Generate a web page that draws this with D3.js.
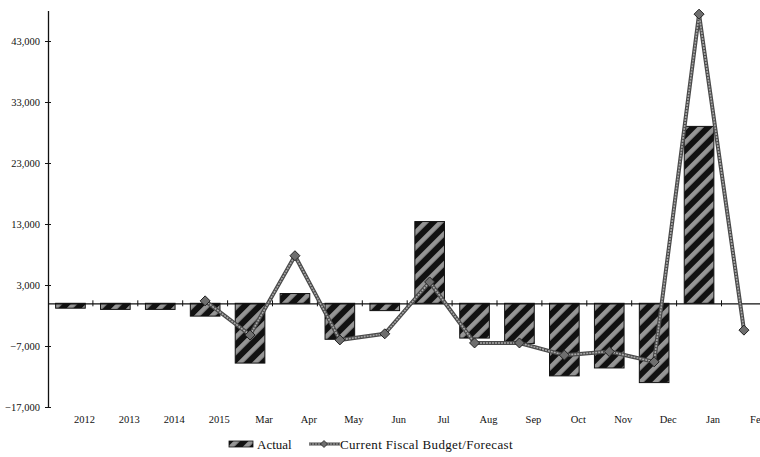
<!DOCTYPE html>
<html>
<head>
<meta charset="utf-8">
<script src="https://cdn.jsdelivr.net/npm/d3@7"></script>
<style>
  html, body { margin: 0; padding: 0; background: #fff; }
  svg { display: block; }
  text { font-family: "Liberation Serif", "Times New Roman", serif; fill: #111; }
</style>
</head>
<body>
<div id="chart"></div>
<script>
// Monthly variance: actual vs. current fiscal budget / forecast
const categories = ["2012", "2013", "2014", "2015", "Mar", "Apr", "May", "Jun",
                    "Jul", "Aug", "Sep", "Oct", "Nov", "Dec", "Jan", "Feb"];
const actual   = [-800, -1000, -1000, -2100, -9800, 1600, -5900, -1200,
                  13400, -5700, -6600, -11900, -10600, -13000, 29000, null];
const forecast = [null, null, null, 400, -5200, 7800, -6000, -5000,
                  3500, -6500, -6500, -8500, -7900, -9600, 47400, -4400];
const yTicks = [-17000, -7000, 3000, 13000, 23000, 33000, 43000];
const seriesNames = ["Actual", "Current Fiscal Budget/Forecast"];

const W = 760, H = 457;
const plotLeft = 48, band = 44.9;

const svg = d3.select("#chart").append("svg")
  .attr("width", W).attr("height", H);

const defs = svg.append("defs");
const pat = defs.append("pattern")
  .attr("id", "hatch")
  .attr("patternUnits", "userSpaceOnUse")
  .attr("width", 10.6).attr("height", 10.6)
  .attr("patternTransform", "rotate(45)");
pat.append("rect").attr("width", 10.6).attr("height", 10.6).attr("fill", "#111");
pat.append("rect").attr("x", 0).attr("width", 4.6).attr("height", 10.6).attr("fill", "#959595");

const x = d3.scaleBand()
  .domain(categories)
  .range([plotLeft, plotLeft + band * categories.length]);

const y = d3.scaleLinear()
  .domain([-17000, 48000])
  .range([407, 10.5]);

const barW = x.bandwidth() * 0.66;
const cx = c => x(c) + x.bandwidth() / 2;

// Bars
svg.append("g").selectAll("rect")
  .data(categories.map((c, i) => ({ c, v: actual[i] })).filter(d => d.v != null))
  .join("rect")
  .attr("x", d => cx(d.c) - barW / 2)
  .attr("width", barW)
  .attr("y", d => y(Math.max(0, d.v)))
  .attr("height", d => Math.abs(y(d.v) - y(0)))
  .attr("fill", "url(#hatch)")
  .attr("stroke", "#111")
  .attr("stroke-width", 1);

// Y axis
const yAxis = svg.append("g")
  .attr("transform", `translate(${plotLeft},0)`)
  .call(d3.axisLeft(y).tickValues(yTicks).tickSizeOuter(0).tickSizeInner(3)
    .tickFormat(d3.format(",")));
yAxis.select(".domain").attr("stroke", "#111").attr("stroke-width", 1.3);
yAxis.selectAll(".tick line").attr("x1", -3).attr("x2", 3).attr("stroke", "#111");
yAxis.selectAll(".tick text")
  .attr("x", -8)
  .style("font-family", "'Liberation Serif', serif")
  .style("font-size", "10.5px")
  .attr("fill", "#111");

// Zero baseline with category tick marks
const xAxis = svg.append("g")
  .attr("transform", `translate(0,${y(0)})`)
  .call(d3.axisBottom(x).tickSize(0).tickFormat(""));
xAxis.select(".domain").attr("stroke", "#111").attr("stroke-width", 1.2);
xAxis.selectAll(".tick").remove();
svg.append("g").selectAll("line")
  .data(categories)
  .join("line")
  .attr("x1", d => x(d) + x.bandwidth())
  .attr("x2", d => x(d) + x.bandwidth())
  .attr("y1", y(0) - 3)
  .attr("y2", y(0) + 3)
  .attr("stroke", "#111");

// Category labels
svg.append("g").selectAll("text")
  .data(categories)
  .join("text")
  .attr("x", d => cx(d) + 14)
  .attr("y", 423)
  .attr("text-anchor", "middle")
  .style("font-size", "10.5px")
  .text(d => d);

// Forecast line
const pts = categories.map((c, i) => ({ c, v: forecast[i] }));
const line = d3.line()
  .defined(d => d.v != null)
  .x(d => cx(d.c))
  .y(d => y(d.v));
svg.append("path").datum(pts)
  .attr("d", line).attr("fill", "none")
  .attr("stroke", "#4a4a4a").attr("stroke-width", 4).attr("stroke-linejoin", "round");
svg.append("path").datum(pts)
  .attr("d", line).attr("fill", "none")
  .attr("stroke", "#a8a8a8").attr("stroke-width", 1.6)
  .attr("stroke-dasharray", "2,1").attr("stroke-linejoin", "round");

const diamond = (px, py, r) => `M${px},${py - r}L${px + r},${py}L${px},${py + r}L${px - r},${py}Z`;
svg.append("g").selectAll("path")
  .data(pts.filter(d => d.v != null))
  .join("path")
  .attr("d", d => diamond(cx(d.c), y(d.v), 5))
  .attr("fill", "#6e6e6e")
  .attr("stroke", "#222")
  .attr("stroke-width", 1);

// Legend
const lg = svg.append("g");
lg.append("rect").attr("x", 229).attr("y", 441).attr("width", 24).attr("height", 6)
  .attr("fill", "url(#hatch)").attr("stroke", "#111").attr("stroke-width", 0.8);
lg.append("text").attr("x", 257).attr("y", 449).style("font-size", "13px").text(seriesNames[0]);
lg.append("line").attr("x1", 309).attr("x2", 340).attr("y1", 444).attr("y2", 444)
  .attr("stroke", "#4a4a4a").attr("stroke-width", 3);
lg.append("line").attr("x1", 309).attr("x2", 340).attr("y1", 444).attr("y2", 444)
  .attr("stroke", "#a8a8a8").attr("stroke-width", 1.2).attr("stroke-dasharray", "2,1");
lg.append("path").attr("d", diamond(324, 444, 3.5))
  .attr("fill", "#6e6e6e").attr("stroke", "#222").attr("stroke-width", 0.8);
lg.append("text").attr("x", 340).attr("y", 449).style("font-size", "13px")
  .style("letter-spacing", "0.35px").text(seriesNames[1]);
</script>
</body>
</html>
